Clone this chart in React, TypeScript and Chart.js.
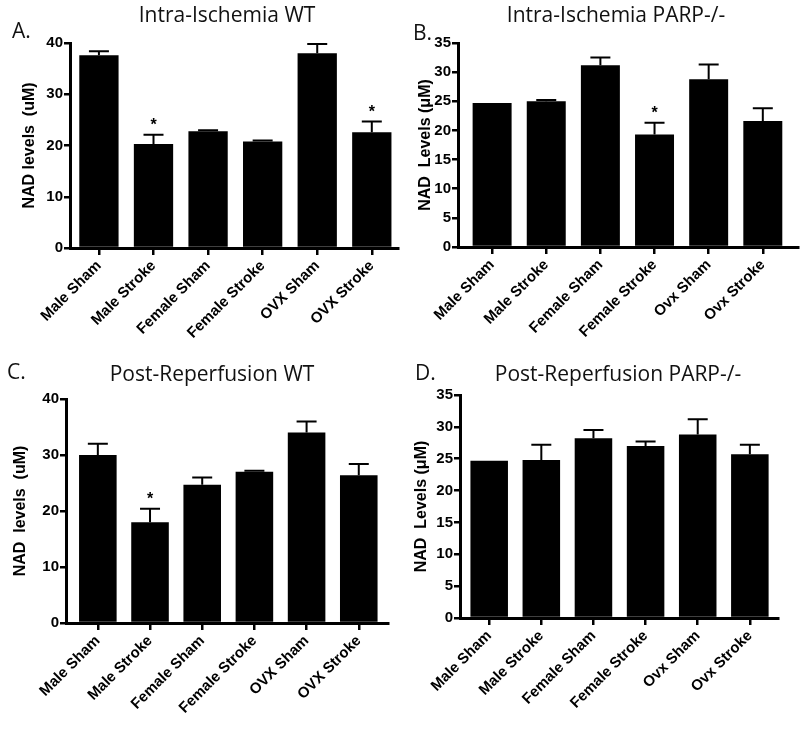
import React, { useEffect, useRef } from "react";
import { Chart, registerables } from "chart.js";

Chart.register(...registerables);

// ---------- data ----------
const categoriesWT = ["Male Sham", "Male Stroke", "Female Sham", "Female Stroke", "OVX Sham", "OVX Stroke"];
const categoriesKO = ["Male Sham", "Male Stroke", "Female Sham", "Female Stroke", "Ovx Sham", "Ovx Stroke"];

const intraWTMeans = [37.6, 20.3, 22.8, 20.8, 38.0, 22.6];
const intraWTErrors = [0.8, 1.8, 0.2, 0.2, 1.8, 2.1];
const intraWTStars = [false, true, false, false, false, true];

const intraKOMeans = [24.7, 25.0, 31.2, 19.3, 28.8, 21.6];
const intraKOErrors = [0.1, 0.2, 1.3, 2.0, 2.5, 2.2];
const intraKOStars = [false, false, false, true, false, false];

const postWTMeans = [30.0, 18.0, 24.7, 27.0, 34.0, 26.4];
const postWTErrors = [2.0, 2.4, 1.3, 0.2, 2.0, 2.0];
const postWTStars = [false, true, false, false, false, false];

const postKOMeans = [24.7, 24.8, 28.2, 27.0, 28.8, 25.7];
const postKOErrors = [0.1, 2.4, 1.3, 0.7, 2.4, 1.5];
const postKOStars = [false, false, false, false, false, false];

const yMaxWT = 40;
const yStepWT = 10;
const yMaxKO = 35;
const yStepKO = 5;

const titles = ["Intra-Ischemia WT", "Intra-Ischemia PARP-/-", "Post-Reperfusion WT", "Post-Reperfusion PARP-/-"];
const letters = ["A.", "B.", "C.", "D."];
const yTitles = ["NAD levels  (uM)", "NAD  Levels (\u03bcM)", "NAD  levels  (uM)", "NAD  Levels (\u03bcM)"];

// ---------- layout ----------
type Panel = {
  left: number; top: number; w: number; h: number;
  area: { l: number; r: number; t: number; b: number };
  xMin: number; xMax: number;
  titleX: number; titleY: number; letterX: number; letterY: number;
  yTitlePad: number;
};

const panels: Panel[] = [
  { left: 0, top: 0, w: 400, h: 367, area: { l: 70, r: 398, t: 43, b: 248 }, xMin: -0.53, xMax: 5.48,
    titleX: 227, titleY: 16, letterX: 12, letterY: 32, yTitlePad: 20 },
  { left: 400, top: 0, w: 400, h: 367, area: { l: 58, r: 398, t: 43, b: 247 }, xMin: -0.63, xMax: 5.65,
    titleX: 216, titleY: 16, letterX: 13, letterY: 34, yTitlePad: 16 },
  { left: 0, top: 350, w: 400, h: 384, area: { l: 66, r: 388, t: 49, b: 273 }, xMin: -0.61, xMax: 5.56,
    titleX: 212, titleY: 25, letterX: 7, letterY: 23, yTitlePad: 11 },
  { left: 400, top: 350, w: 400, h: 384, area: { l: 60, r: 378, t: 45, b: 268 }, xMin: -0.56, xMax: 5.54,
    titleX: 218, titleY: 25, letterX: 15, letterY: 24, yTitlePad: 12 },
];

const extrasPlugin = {
  id: "extras",
  afterDatasetsDraw(chart: any, _args: any, opts: any) {
    const { ctx } = chart;
    const meta = chart.getDatasetMeta(0);
    const ys = chart.scales.y;
    ctx.save();
    ctx.strokeStyle = "#000";
    ctx.fillStyle = "#000";
    ctx.lineWidth = 2;
    opts.means.forEach((m: number, i: number) => {
      const bar = meta.data[i];
      if (!bar) return;
      const x = bar.x;
      const e = opts.errors[i];
      const yTop = ys.getPixelForValue(m);
      const yE = ys.getPixelForValue(m + e);
      if (e > 0.15) {
        ctx.beginPath();
        ctx.moveTo(x, yTop);
        ctx.lineTo(x, yE);
        ctx.moveTo(x - 10, yE);
        ctx.lineTo(x + 10, yE);
        ctx.stroke();
      }
      if (opts.stars[i]) {
        ctx.font = "bold 16px 'Liberation Sans'";
        ctx.textAlign = "center";
        ctx.textBaseline = "middle";
        ctx.fillText("*", x, yE - 9);
      }
    });
    ctx.restore();
  },
  afterDraw(chart: any, _args: any, opts: any) {
    const { ctx } = chart;
    ctx.save();
    ctx.fillStyle = "#111";
    ctx.textBaseline = "middle";
    ctx.font = "21px 'Open Sans'";
    ctx.textAlign = "center";
    ctx.fillText(opts.title, opts.titleX, opts.titleY);
    ctx.textAlign = "left";
    ctx.fillText(opts.letter, opts.letterX, opts.letterY);
    ctx.restore();
  },
};

function BarPanel(props: {
  idx: number; cats: string[]; means: number[]; errors: number[]; stars: boolean[]; yMax: number; yStep: number;
}) {
  const ref = useRef<HTMLCanvasElement>(null);
  const p = panels[props.idx];
  useEffect(() => {
    if (!ref.current) return;
    const cats = props.cats;
    const chart = new Chart(ref.current, {
      type: "bar",
      data: {
        datasets: [
          {
            data: props.means.map((v, i) => ({ x: i, y: v })),
            backgroundColor: "#000",
            borderWidth: 0,
            barPercentage: 0.9,
            categoryPercentage: 0.8,
          } as any,
        ],
      },
      plugins: [extrasPlugin as any],
      options: {
        responsive: false,
        animation: false,
        devicePixelRatio: 1,
        layout: { padding: { left: 0, top: p.area.t, right: p.w - p.area.r, bottom: 0 } },
        plugins: {
          legend: { display: false },
          tooltip: { enabled: false },
          title: { display: false },
          extras: {
            means: props.means, errors: props.errors, stars: props.stars,
            title: titles[props.idx], letter: letters[props.idx],
            titleX: p.titleX, titleY: p.titleY, letterX: p.letterX, letterY: p.letterY,
          },
        } as any,
        scales: {
          x: {
            type: "linear",
            offset: false,
            min: p.xMin,
            max: p.xMax,
            afterBuildTicks: (s: any) => { s.ticks = cats.map((_, i) => ({ value: i })); },
            afterFit: (s: any) => { s.height = p.h - p.area.b; },
            ticks: {
              autoSkip: false,
              minRotation: 45,
              maxRotation: 45,
              padding: 2,
              color: "#000",
              font: { family: "'Liberation Sans'", size: 15, weight: "bold" },
              callback: (v: any) => cats[Math.round(Number(v))] ?? "",
            },
            grid: { display: true, offset: false, drawOnChartArea: false, drawTicks: true, tickLength: 7, color: "#000", lineWidth: 2.5 },
            border: { display: true, color: "#000", width: 3 },
          },
          y: {
            min: 0,
            max: props.yMax,
            afterFit: (s: any) => { s.width = p.area.l; },
            ticks: {
              stepSize: props.yStep,
              padding: 1,
              color: "#000",
              font: { family: "'Liberation Sans'", size: 15, weight: "bold" },
            },
            title: {
              display: true,
              text: yTitles[props.idx],
              color: "#000",
              font: { family: "'Liberation Sans'", size: 16, weight: "bold" },
              padding: { top: p.yTitlePad, bottom: 0 },
            },
            grid: { display: true, drawOnChartArea: false, drawTicks: true, tickLength: 6, color: "#000", lineWidth: 2.5 },
            border: { display: true, color: "#000", width: 3 },
          },
        } as any,
      },
    });
    return () => chart.destroy();
  }, []);
  return (
    <canvas
      ref={ref}
      width={p.w}
      height={p.h}
      style={{ position: "absolute", left: p.left, top: p.top, width: p.w, height: p.h }}
    />
  );
}

export default function App() {
  return (
    <div style={{ position: "absolute", left: 0, top: 0, width: 800, height: 734, background: "#fff" }}>
      <BarPanel idx={0} cats={categoriesWT} means={intraWTMeans} errors={intraWTErrors} stars={intraWTStars} yMax={yMaxWT} yStep={yStepWT} />
      <BarPanel idx={1} cats={categoriesKO} means={intraKOMeans} errors={intraKOErrors} stars={intraKOStars} yMax={yMaxKO} yStep={yStepKO} />
      <BarPanel idx={2} cats={categoriesWT} means={postWTMeans} errors={postWTErrors} stars={postWTStars} yMax={yMaxWT} yStep={yStepWT} />
      <BarPanel idx={3} cats={categoriesKO} means={postKOMeans} errors={postKOErrors} stars={postKOStars} yMax={yMaxKO} yStep={yStepKO} />
    </div>
  );
}
